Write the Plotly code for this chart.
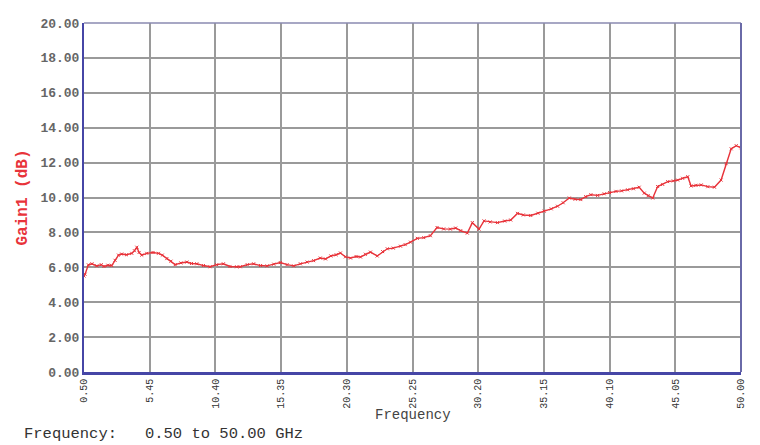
import plotly.graph_objects as go

# values (GHz, dB)
freq_ghz = [0.50, 0.58, 0.83, 1.10, 1.46, 1.80, 2.00, 2.30, 2.59, 2.84, 3.10, 3.34, 3.70, 4.10, 4.30,
            4.48, 4.65, 4.85, 5.23, 5.70, 6.11, 6.40, 6.74, 7.05, 7.37, 7.80, 8.25, 8.60, 9.00,
            9.50, 10.00, 10.50, 11.00, 11.50, 12.00, 12.27, 12.80, 13.28, 13.80, 14.29, 14.80,
            15.29, 15.80, 16.30, 16.80, 17.31, 17.80, 18.30, 18.70, 19.10, 19.50, 19.82, 20.20,
            20.58, 21.00, 21.33, 21.70, 22.08, 22.59, 23.00, 23.35, 23.80, 24.35, 24.70, 25.10,
            25.61, 26.10, 26.60, 27.10, 27.60, 28.10, 28.50, 28.88, 29.38, 29.76, 30.26, 30.64,
            31.10, 31.65, 32.20, 32.65, 33.16, 33.60, 34.16, 34.70, 35.17, 35.70, 36.18, 36.60,
            37.06, 37.50, 37.93, 38.30, 38.69, 39.20, 39.69, 40.10, 40.58, 41.00, 41.46, 41.90,
            42.33, 42.71, 43.00, 43.35, 43.72, 44.10, 44.48, 44.90, 45.23, 45.60, 45.99, 46.24,
            46.60, 47.00, 47.50, 48.00, 48.50, 48.88, 49.26, 49.64, 50.00]
gain_db = [5.50, 5.60, 6.14, 6.20, 6.08, 6.15, 6.05, 6.12, 6.10, 6.40, 6.70, 6.76, 6.72, 6.80, 6.95,
           7.15, 6.85, 6.70, 6.80, 6.85, 6.80, 6.70, 6.50, 6.35, 6.15, 6.25, 6.30, 6.22, 6.20,
           6.10, 6.03, 6.15, 6.20, 6.05, 6.03, 6.03, 6.15, 6.20, 6.10, 6.08, 6.18,
           6.27, 6.15, 6.08, 6.20, 6.30, 6.38, 6.53, 6.48, 6.65, 6.72, 6.82, 6.60,
           6.53, 6.62, 6.59, 6.75, 6.87, 6.65, 6.90, 7.06, 7.10, 7.21, 7.30, 7.44,
           7.66, 7.70, 7.81, 8.28, 8.20, 8.19, 8.25, 8.10, 7.96, 8.56, 8.19, 8.66,
           8.60, 8.56, 8.65, 8.71, 9.09, 9.00, 8.97, 9.10, 9.22, 9.35, 9.50, 9.70,
           9.97, 9.90, 9.88, 10.05, 10.16, 10.12, 10.21, 10.28, 10.35, 10.38, 10.44, 10.50,
           10.59, 10.25, 10.10, 9.97, 10.63, 10.75, 10.91, 10.95, 11.00, 11.10, 11.19, 10.66,
           10.70, 10.72, 10.62, 10.59, 11.00, 11.94, 12.79, 12.97, 12.85]

x_ticks = [0.50, 5.45, 10.40, 15.35, 20.30, 25.25, 30.20, 35.15, 40.10, 45.05, 50.00]
y_ticks = [0, 2, 4, 6, 8, 10, 12, 14, 16, 18, 20]

mono = "Liberation Mono"
grid = "#9a9a9a"
blue = "#4646a6"

fig = go.Figure()
fig.add_trace(go.Scatter(x=freq_ghz, y=gain_db, mode="lines+markers",
                         line=dict(color="#e8333a", width=1.4),
                         marker=dict(symbol="x-thin", size=3, color="#e8333a",
                                     line=dict(width=1, color="#e8333a")),
                         showlegend=False))

fig.update_xaxes(range=[0.5, 50], tickvals=x_ticks, ticktext=[f"{v:.2f}" for v in x_ticks],
                 tickangle=-90, showgrid=True, gridcolor=grid, gridwidth=1.5,
                 showline=True, linecolor=blue, linewidth=2.5, zeroline=False,
                 ticks="", tickfont=dict(family=mono, size=10, color="#333"))
fig.update_yaxes(range=[0, 20], tickvals=y_ticks, ticktext=[f"<b>{v:.2f}</b>" for v in y_ticks],
                 showgrid=True, gridcolor=grid, gridwidth=1.5,
                 showline=True, linecolor=blue, linewidth=2, zeroline=False,
                 ticks="", tickfont=dict(family=mono, size=13, color="#666"),
                 title=dict(text="<b>Gain1 (dB)</b>", font=dict(family=mono, size=16, color="#e8333a"),
                            standoff=9))

# top and right frame
fig.add_shape(type="line", xref="paper", yref="paper", x0=0, x1=1, y0=1, y1=1,
              line=dict(color="#8a8ab0", width=1.5))
fig.add_shape(type="line", xref="paper", yref="paper", x0=1, x1=1, y0=0, y1=1,
              line=dict(color="#6a6aa8", width=2))

fig.add_annotation(text="Frequency", xref="paper", yref="paper", x=0.5, y=-0.152,
                   showarrow=False, font=dict(family=mono, size=14, color="#444"))
fig.add_annotation(text="Frequency:&nbsp;&nbsp;&nbsp;0.50 to 50.00 GHz", xref="paper", yref="paper",
                   x=-0.094, y=-0.208, xanchor="left", showarrow=False,
                   font=dict(family=mono, size=15.5, color="#333"))

# the page has an 8px body margin, so the margins are shifted to compensate
fig.update_layout(width=760, height=445, margin=dict(l=76, r=27, t=9, b=81),
                  paper_bgcolor="#fff", plot_bgcolor="#fff")

fig.write_html("out.html")
